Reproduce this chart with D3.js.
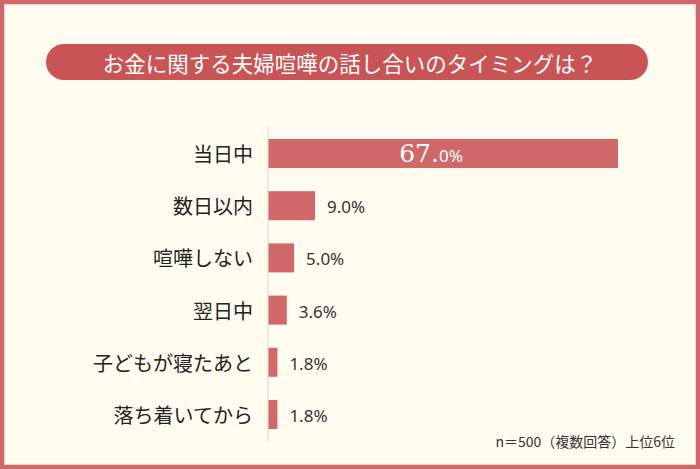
<!DOCTYPE html>
<html><head><meta charset="utf-8">
<script src="https://cdn.jsdelivr.net/npm/d3@7/dist/d3.min.js"></script>
<style>html,body{margin:0;padding:0;background:#fffbee;}svg{display:block;}</style>
</head><body>
<script>
const title = "お金に関する夫婦喧嘩の話し合いのタイミングは？";
const categories = ["当日中","数日以内","喧嘩しない","翌日中","子どもが寝たあと","落ち着いてから"];
const values = [67.0, 9.0, 5.0, 3.6, 1.8, 1.8];
const note = "n＝500（複数回答）上位6位";

const W = 700, H = 469;
const svg = d3.select("body").append("svg").attr("width", W).attr("height", H);

svg.append("rect").attr("x",0).attr("y",0).attr("width",W).attr("height",H).attr("fill","#fffbee");
svg.append("rect").attr("x",2).attr("y",2).attr("width",W-4).attr("height",H-4)
  .attr("fill","none").attr("stroke","#d2676b").attr("stroke-width",4);
svg.append("rect").attr("x",4.5).attr("y",4.5).attr("width",W-9).attr("height",H-9)
  .attr("fill","none").attr("stroke","#f3d2c8").attr("stroke-width",1);

// title pill
svg.append("rect").attr("x",46).attr("y",44).attr("width",602).attr("height",36)
  .attr("rx",18).attr("ry",18).attr("fill","#c95456");
svg.append("text").attr("x",350).attr("y",62).attr("text-anchor","middle")
  .attr("dominant-baseline","central").attr("fill","#ffffff")
  .attr("font-family","'Noto Sans CJK JP','Noto Sans',sans-serif").attr("font-size",21.5)
  .text(title);

const x = d3.scaleLinear().domain([0, 67]).range([268, 618]);
const y = d3.scaleBand().domain(categories).range([127.4, 440.6]).paddingInner(0.444).paddingOuter(0.222);

// axis line
svg.append("line").attr("x1",268).attr("x2",268).attr("y1",127).attr("y2",441)
  .attr("stroke","#dcd6cc").attr("stroke-width",1);

const data = categories.map((c,i)=>({c, v: values[i]}));

svg.selectAll("rect.bar").data(data).join("rect").attr("class","bar")
  .attr("x", x(0)+0.5).attr("y", d=>y(d.c))
  .attr("width", d=>x(d.v)-x(0)-0.5).attr("height", y.bandwidth())
  .attr("fill","#d0686a");

// category labels
svg.selectAll("text.cat").data(data).join("text").attr("class","cat")
  .attr("x", 253).attr("y", d=>y(d.c)+y.bandwidth()/2)
  .attr("text-anchor","end").attr("dominant-baseline","central")
  .attr("fill","#222").attr("font-family","'Noto Sans CJK JP',sans-serif").attr("font-size",20)
  .text(d=>d.c);

// value labels
data.forEach((d,i)=>{
  const cy = y(d.c)+y.bandwidth()/2;
  if (i===0) {
    const [intPart, decPart] = d.v.toFixed(1).split(".");
    const t = svg.append("text").attr("x", 431).attr("y", cy+8).attr("text-anchor","middle")
      .attr("fill","#ffffff");
    t.append("tspan").attr("font-family","'DejaVu Serif','Liberation Serif',serif").attr("font-size",25)
      .text(intPart + ".");
    t.append("tspan").attr("font-family","'Noto Sans',sans-serif").attr("font-size",17)
      .text(decPart + "%");
  } else {
    svg.append("text").attr("x", x(d.v)+12).attr("y", cy+1).attr("dominant-baseline","central")
      .attr("fill","#333").attr("font-family","'Noto Sans',sans-serif").attr("font-size",17)
      .text(d.v.toFixed(1) + "%");
  }
});

svg.append("text").attr("x",675).attr("y",447).attr("text-anchor","end")
  .attr("fill","#333").attr("font-family","'Noto Sans CJK JP',sans-serif").attr("font-size",14)
  .text(note);
</script>
</body></html>
